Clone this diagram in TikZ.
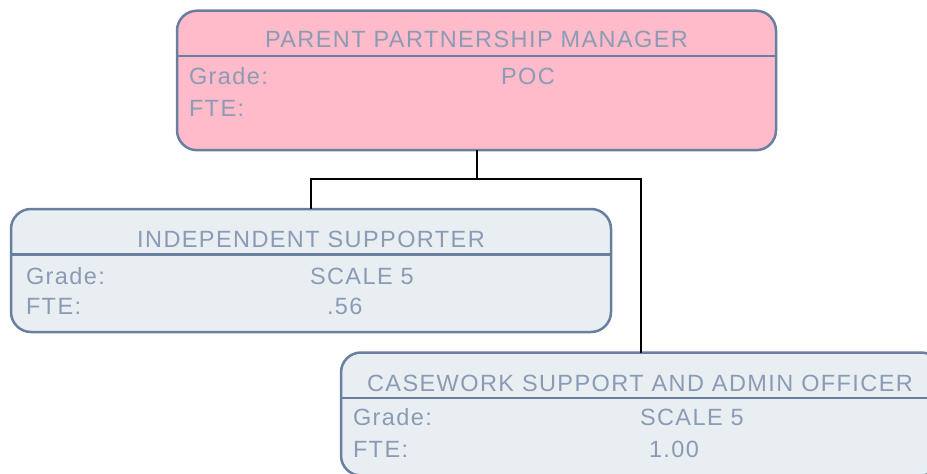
\documentclass[tikz,border=0pt]{standalone}
\usepackage{fontspec}
\setmainfont{Liberation Sans}[LetterSpace=6]
\usepackage{xcolor}
\usetikzlibrary{positioning}

\definecolor{postpink}{HTML}{FFBBC9}
\definecolor{postgrey}{HTML}{E9EEF2}
\definecolor{postedge}{HTML}{687FA0}
\definecolor{posttext}{HTML}{8A9BB5}

\begin{document}
\begin{tikzpicture}[x=1pt, y=-1pt,
  every node/.style={font=\fontsize{23.5}{27}\selectfont, text=posttext, inner sep=0pt, outer sep=0pt},
  post/.style={draw=postedge, line width=2.5pt, rounded corners=20pt, minimum width=600pt, minimum height=123pt, anchor=north west},
  ttl/.style={anchor=base},
  lbl/.style={anchor=base west},
  link/.style={draw=black, line width=2pt}]
\useasboundingbox (0,0) rectangle (927,474);
\clip (0,0) rectangle (927,474);
% boxes
\node[post, fill=postpink, minimum width=599pt, minimum height=139.5pt] (ppm) at (177,10.7) {};
\node[post, fill=postgrey] (ind) at (11,209) {};
\node[post, fill=postgrey] (cas) at (341,352.5) {};
\foreach \b in {ppm, ind, cas}
  \draw[postedge, line width=2.5pt] ([yshift=-45.5pt]\b.north west) -- ([yshift=-45.5pt]\b.north east);
% texts
\node[ttl] (ppmt) at (476.5,47.5) {PARENT PARTNERSHIP MANAGER};
\node[lbl] (ppmg) at (189,84) {Grade:};
\node[lbl] (ppmgv) at (501,84) {POC};
\node[lbl] (ppmf) at (189,116) {FTE:};
\node[ttl] (indt) at (311,247) {INDEPENDENT SUPPORTER};
\node[lbl] (indg) at (26,284) {Grade:};
\node[lbl] (indgv) at (310,284) {SCALE 5};
\node[lbl] (indf) at (26,314.5) {FTE:};
\node[lbl] (indfv) at (327,314.5) {.56};
\node[ttl] (cast) at (640,391) {CASEWORK SUPPORT AND ADMIN OFFICER};
\node[lbl] (casg) at (353,425) {Grade:};
\node[lbl] (casgv) at (640,425) {SCALE 5};
\node[lbl] (casf) at (353,457) {FTE:};
\node[lbl] (casfv) at (649,457) {1.00};
% connectors
\coordinate (fork) at (ppm.south |- 0,179);
\draw[link] (ppm.south) -- (fork) -| (ind.north);
\draw[link] (fork) -| (cas.north);
\end{tikzpicture}
\end{document}
